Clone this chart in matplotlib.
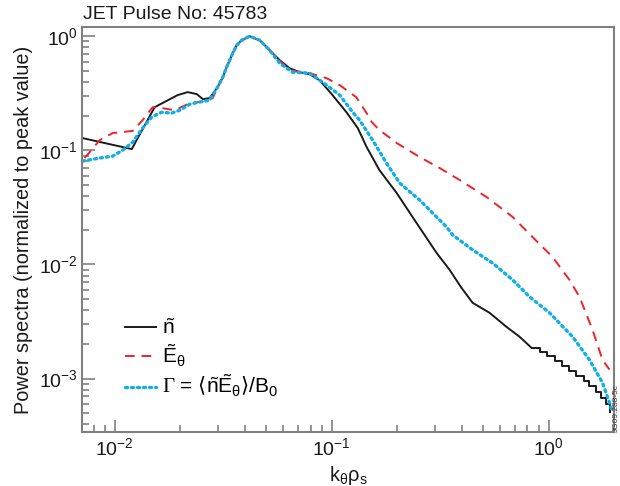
import matplotlib
matplotlib.use('Agg')
import matplotlib.pyplot as plt

plt.rcParams['font.family'] = ['Liberation Sans', 'DejaVu Sans']
plt.rcParams['mathtext.fontset'] = 'custom'
plt.rcParams['mathtext.rm'] = 'Liberation Sans'
plt.rcParams['mathtext.it'] = 'Liberation Sans:italic'
plt.rcParams['mathtext.cal'] = 'Liberation Serif'
plt.rcParams['mathtext.sf'] = 'DejaVu Sans'

# density fluctuation spectrum (smooth part + stepped tail)
n_k = [0.00712, 0.01198, 0.01528, 0.0195, 0.0217, 0.0239, 0.0255, 0.0274,
       0.0298, 0.0315, 0.0328, 0.035, 0.0365, 0.0385, 0.0419, 0.0466, 0.0518,
       0.0576, 0.064, 0.0712, 0.0792, 0.088, 0.101, 0.117, 0.132, 0.145, 0.166,
       0.1995, 0.236, 0.305, 0.35, 0.397, 0.447, 0.535, 0.640, 0.735, 0.835]
n_p = [0.128, 0.1026, 0.239, 0.305, 0.324, 0.311, 0.281, 0.287,
       0.358, 0.438, 0.535, 0.71, 0.834, 0.923, 1.0, 0.923, 0.754,
       0.617, 0.525, 0.484, 0.465, 0.412, 0.305, 0.216, 0.157, 0.107, 0.0673,
       0.0423, 0.0261, 0.0126, 0.00897, 0.00624, 0.00461, 0.00377, 0.00284,
       0.00233, 0.00186]
n_tail_k = [0.835, 0.909, 0.989, 1.077, 1.160, 1.249, 1.346, 1.450, 1.545,
            1.647, 1.755, 1.850, 1.931]
n_tail_p = [0.00186, 0.00172, 0.00158, 0.00143, 0.00130, 0.00117, 0.00106,
            0.00096, 0.000867, 0.000768, 0.000680, 0.000603, 0.000513]

# poloidal electric field spectrum
e_k = [0.00727, 0.00853, 0.0098, 0.0121, 0.01345, 0.01496, 0.01663, 0.0189,
       0.0222, 0.0265, 0.0283, 0.0298, 0.0315, 0.0328, 0.035, 0.0365, 0.0385,
       0.0419, 0.0466, 0.0518, 0.0576, 0.064, 0.0792, 0.0948, 0.109, 0.130,
       0.145, 0.153, 0.166, 0.1995, 0.2545, 0.315, 0.389, 0.518, 0.683, 0.844,
       1.043, 1.249, 1.389, 1.595, 1.774, 1.91]
e_p = [0.0857, 0.123, 0.142, 0.148, 0.184, 0.239, 0.234, 0.225,
       0.259, 0.270, 0.287, 0.358, 0.438, 0.535, 0.71, 0.834, 0.923,
       1.0, 0.923, 0.754, 0.61, 0.504, 0.475, 0.429, 0.373, 0.292,
       0.212, 0.177, 0.151, 0.116, 0.0874, 0.070, 0.055, 0.039, 0.0261, 0.0174,
       0.01165, 0.00733, 0.00521, 0.00268, 0.00146, 0.0012]

# particle flux spectrum
g_k = [0.00712, 0.00853, 0.0098, 0.01089, 0.0121, 0.01345, 0.01481, 0.01648,
       0.01832, 0.01995, 0.0222, 0.0246, 0.0274, 0.0298, 0.0315, 0.0328, 0.035,
       0.0365, 0.0385, 0.0419, 0.0466, 0.0518, 0.0576, 0.0661, 0.0792, 0.0909,
       0.109, 0.125, 0.1346, 0.1545, 0.179, 0.2057, 0.2545, 0.339, 0.361, 0.447,
       0.552, 0.683, 0.817, 1.011, 1.29, 1.545, 1.774, 1.91, 1.95]
g_p = [0.0806, 0.0857, 0.0891, 0.1006, 0.118, 0.157, 0.196, 0.216,
       0.212, 0.225, 0.254, 0.265, 0.275, 0.358, 0.438, 0.535, 0.71,
       0.834, 0.923, 1.0, 0.923, 0.754, 0.58, 0.484, 0.475, 0.396,
       0.305, 0.216, 0.184, 0.123, 0.0774, 0.0518, 0.0367, 0.0213, 0.0182, 0.0134,
       0.0103, 0.00733, 0.00521, 0.00377, 0.00233, 0.00146, 0.00092, 0.000615,
       0.00054]

fig = plt.figure(figsize=(6.2, 4.86), dpi=100)
ax = fig.add_axes([0.133, 0.111, 0.857, 0.833])

ax.plot(n_k, n_p, color='#1a1a1a', lw=1.4, label=r'$\tilde{\mathrm{n}}$')
ax.plot(n_tail_k, n_tail_p, color='#1a1a1a', lw=1.4, drawstyle='steps-post')
ax.plot(e_k, e_p, color='#ee2229', lw=1.4, dashes=(5, 3.5),
        label=r'$\tilde{\mathrm{E}}_\mathrm{\theta}$')
ax.plot(g_k, g_p, color='#11aee8', lw=2.4, linestyle=(0, (0.6, 1.2)),
        dash_capstyle='round',
        label=r'$\mathcal{\Gamma}$ = $\mathsf{\langle}\tilde{\mathrm{n}}\tilde{\mathrm{E}}_\mathrm{\theta}\mathsf{\rangle}$/B$_0$')

ax.set_xscale('log')
ax.set_yscale('log')
ax.set_xlim(0.0071, 2.0)
ax.set_ylim(3.4e-4, 1.2)

for s in ax.spines.values():
    s.set_color('#808080')
    s.set_linewidth(1.5)
ax.tick_params(which='both', direction='in', colors='#808080', labelcolor='#1a1a1a',
               labelsize=14, top=False, right=False, width=1.2)
ax.tick_params(which='major', length=9)
ax.tick_params(which='minor', length=5)

ax.set_xlabel(r'k$_\mathrm{\theta}$$\mathrm{\rho}_\mathrm{s}$', fontsize=14.5, color='#1a1a1a')
ax.set_ylabel('Power spectra (normalized to peak value)', fontsize=14.3, color='#1a1a1a')
fig.text(0.134, 0.970, 'JET Pulse No: 45783', fontsize=14, color='#1a1a1a', va='center')

ax.legend(loc='lower left', bbox_to_anchor=(0.045, 0.035), frameon=False, fontsize=15,
          handlelength=1.5, handletextpad=0.25, labelspacing=0.2)

fig.text(0.9935, 0.111, 'JG09.288-5c', rotation=90, fontsize=6, color='#333333',
         ha='center', va='bottom')

fig.savefig('out.png', dpi=100)
